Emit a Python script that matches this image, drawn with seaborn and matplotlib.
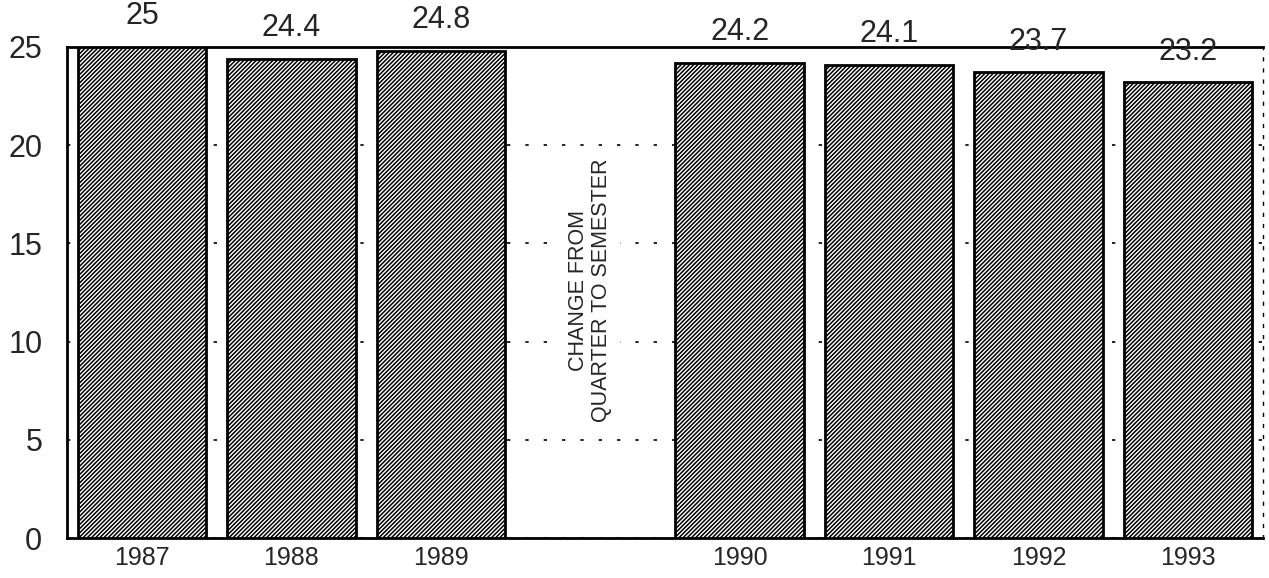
import pandas as pd
import numpy as np
import matplotlib
matplotlib.use("Agg")
import matplotlib.pyplot as plt
import seaborn as sns

years = ["1987", "1988", "1989", "1990", "1991", "1992", "1993"]
values = [25, 24.4, 24.8, 24.2, 24.1, 23.7, 23.2]
value_labels = ["25", "24.4", "24.8", "24.2", "24.1", "23.7", "23.2"]
gap_label = "CHANGE FROM\nQUARTER TO SEMESTER"
order = ["1987", "1988", "1989", "", "1990", "1991", "1992", "1993"]

sns.set_style("white")
plt.rcParams["font.family"] = ["Liberation Sans", "DejaVu Sans"]
plt.rcParams["hatch.linewidth"] = 1.1
plt.rcParams["hatch.color"] = "black"

df = pd.DataFrame({"year": years, "value": values})

fig = plt.figure(figsize=(12.69, 5.78), dpi=100)
ax = fig.add_axes([0.053, 0.069, 0.942, 0.850])

sns.barplot(data=df, x="year", y="value", order=order, width=0.86,
            color="white", edgecolor="black", linewidth=2, ax=ax, zorder=3)

for bar in ax.patches:
    bar.set_hatch("////////")
    bar.set_facecolor("white")
    bar.set_edgecolor("black")

# value labels above bars
for bar, lab in zip(ax.patches, value_labels):
    ax.annotate(lab, (bar.get_x() + bar.get_width() / 2, bar.get_height()),
                xytext=(0, 22), textcoords="offset points",
                ha="center", va="center", fontsize=22, annotation_clip=False)

# note in the empty slot (white box hides the dotted grid behind it)
gap_x = order.index("")
ax.text(gap_x, 12.6, gap_label, rotation=90, ha="center", va="center",
        fontsize=15.5, linespacing=1.1, zorder=4,
        bbox=dict(facecolor="white", edgecolor="none", pad=6))

ax.set_ylim(0, 25)
ax.set_xlim(-0.5, len(order) - 0.5)
ax.set_yticks([0, 5, 10, 15, 20, 25])
ax.set_yticklabels(["0", "5", "10", "15", "20", "25"], fontsize=22)
ax.tick_params(axis="y", length=0, pad=18)
ax.tick_params(axis="x", length=0, pad=6, labelsize=18)
ax.set_xlabel("")
ax.set_ylabel("")

ax.yaxis.grid(True, linestyle=(0, (2, 9)), color="black", linewidth=1.2)
ax.set_axisbelow(True)

for side in ["left", "bottom", "top"]:
    ax.spines[side].set_visible(True)
    ax.spines[side].set_color("black")
    ax.spines[side].set_linewidth(2)
ax.spines["right"].set_visible(True)
ax.spines["right"].set_linestyle((0, (2, 6)))
ax.spines["right"].set_linewidth(1)
ax.spines["right"].set_color("black")

fig.savefig("out.png", dpi=100)
